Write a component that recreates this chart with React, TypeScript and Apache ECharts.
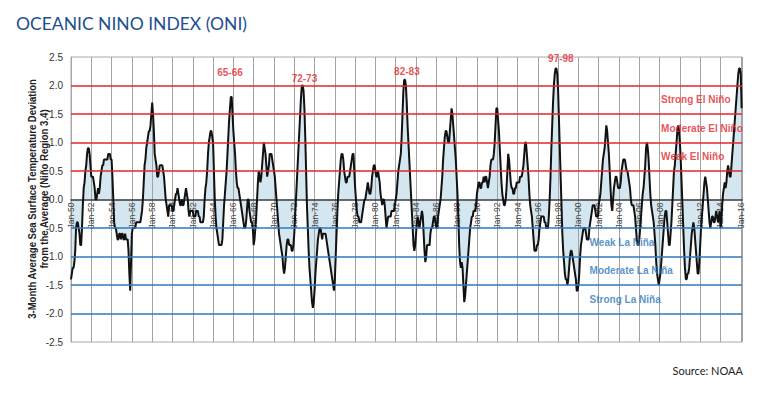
import React, { useEffect, useRef } from 'react';
import * as echarts from 'echarts';

// Monthly Oceanic Niño Index (3-month running mean), Jan 1950 – Feb 2016
const startYear = 1950;
const oni1950s = [
  -1.4, -1.3, -1.2, -1.2, -1.1, -0.9, -0.5, -0.4, -0.4, -0.5, -0.6, -0.8,
  -0.8, -0.5, -0.1, 0.2, 0.3, 0.5, 0.6, 0.8, 0.9, 0.9, 0.8, 0.6,
  0.4, 0.4, 0.4, 0.3, 0.2, 0.0, 0.0, 0.1, 0.2, 0.1, 0.2, 0.4,
  0.5, 0.6, 0.6, 0.7, 0.7, 0.7, 0.7, 0.7, 0.8, 0.8, 0.8, 0.7,
  0.7, 0.4, 0.0, -0.4, -0.5, -0.5, -0.6, -0.7, -0.7, -0.6, -0.6, -0.7,
  -0.6, -0.6, -0.7, -0.7, -0.6, -0.7, -0.7, -0.7, -0.9, -1.3, -1.6, -1.1,
  -0.6, -0.5, -0.5, -0.5, -0.5, -0.4, -0.4, -0.4, -0.4, -0.4, -0.4, -0.3,
  -0.2, 0.0, 0.3, 0.6, 0.7, 0.9, 1.0, 1.1, 1.2, 1.2, 1.3, 1.5,
  1.7, 1.5, 1.2, 0.8, 0.7, 0.6, 0.4, 0.4, 0.5, 0.6, 0.6, 0.6,
  0.6, 0.5, 0.4, 0.2, 0.0, -0.1, -0.2, -0.3, -0.1, -0.1, -0.1, -0.1,
];
const oni1960s = [
  -0.2, -0.2, -0.1, 0.0, 0.1, 0.1, 0.2, 0.1, 0.0, -0.1, -0.1, 0.0,
  -0.1, -0.1, 0.0, 0.1, 0.2, 0.1, 0.0, -0.2, -0.3, -0.2, -0.2, -0.2,
  -0.2, -0.3, -0.3, -0.3, -0.2, -0.2, -0.2, -0.3, -0.3, -0.4, -0.4, -0.4,
  -0.4, -0.3, 0.0, 0.2, 0.3, 0.5, 0.8, 1.0, 1.1, 1.2, 1.2, 1.1,
  1.0, 0.5, 0.0, -0.3, -0.5, -0.6, -0.7, -0.8, -0.8, -0.8, -0.8, -0.7,
  -0.4, -0.1, 0.1, 0.3, 0.5, 0.8, 1.1, 1.4, 1.6, 1.8, 1.8, 1.5,
  1.2, 1.0, 0.8, 0.5, 0.3, 0.2, 0.2, 0.1, 0.0, -0.1, -0.2, -0.3,
  -0.4, -0.5, -0.5, -0.4, -0.2, 0.0, 0.0, -0.2, -0.3, -0.4, -0.4, -0.5,
  -0.8, -0.7, -0.5, -0.3, 0.0, 0.3, 0.5, 0.4, 0.3, 0.4, 0.6, 0.8,
  1.0, 0.9, 0.8, 0.6, 0.4, 0.5, 0.6, 0.8, 0.8, 0.8, 0.7, 0.6,
];
const oni1970s = [
  0.5, 0.4, 0.2, 0.0, -0.2, -0.4, -0.6, -0.7, -0.8, -0.9, -1.0, -1.2,
  -1.3, -1.2, -1.0, -0.8, -0.7, -0.7, -0.8, -0.8, -0.8, -0.9, -0.9, -0.8,
  -0.6, -0.3, 0.0, 0.3, 0.6, 0.9, 1.2, 1.5, 1.8, 2.0, 2.0, 1.9,
  1.6, 1.1, 0.5, -0.1, -0.5, -0.9, -1.2, -1.4, -1.6, -1.8, -1.9, -1.8,
  -1.6, -1.3, -1.1, -0.9, -0.7, -0.6, -0.5, -0.5, -0.6, -0.7, -0.6, -0.6,
  -0.6, -0.6, -0.7, -0.8, -0.9, -1.0, -1.1, -1.2, -1.3, -1.4, -1.5, -1.6,
  -1.4, -1.0, -0.6, -0.2, 0.1, 0.3, 0.5, 0.7, 0.8, 0.8, 0.7, 0.5,
  0.4, 0.3, 0.3, 0.4, 0.4, 0.4, 0.5, 0.6, 0.7, 0.8, 0.8, 0.5,
  0.2, 0.0, -0.2, -0.3, -0.3, -0.4, -0.4, -0.4, -0.3, -0.2, -0.1, 0.0,
  0.0, 0.1, 0.2, 0.3, 0.2, 0.1, 0.1, 0.2, 0.4, 0.5, 0.6, 0.6,
];
const oni1980s = [
  0.5, 0.4, 0.4, 0.5, 0.4, 0.3, 0.1, 0.0, -0.1, 0.0, 0.0, -0.1,
  -0.3, -0.5, -0.4, -0.3, -0.3, -0.3, -0.3, -0.2, -0.2, -0.2, -0.2, -0.1,
  0.0, 0.1, 0.3, 0.5, 0.6, 0.7, 0.8, 1.1, 1.5, 1.9, 2.1, 2.1,
  2.0, 1.7, 1.3, 1.0, 0.7, 0.4, 0.1, -0.2, -0.5, -0.8, -0.9, -0.8,
  -0.6, -0.4, -0.3, -0.4, -0.5, -0.4, -0.3, -0.2, -0.3, -0.6, -0.9, -1.1,
  -1.0, -0.8, -0.8, -0.8, -0.8, -0.6, -0.5, -0.5, -0.4, -0.3, -0.3, -0.4,
  -0.5, -0.5, -0.3, -0.2, -0.1, 0.0, 0.2, 0.4, 0.7, 0.9, 1.1, 1.2,
  1.2, 1.1, 1.0, 1.0, 1.2, 1.4, 1.6, 1.5, 1.3, 1.1, 0.9, 0.7,
  0.4, 0.1, -0.3, -0.8, -1.1, -1.2, -1.1, -1.2, -1.5, -1.8, -1.7, -1.5,
  -1.3, -1.1, -0.9, -0.7, -0.5, -0.4, -0.3, -0.3, -0.2, -0.2, -0.2, -0.1,
];
const oni1990s = [
  0.1, 0.2, 0.3, 0.3, 0.2, 0.2, 0.3, 0.3, 0.4, 0.3, 0.4, 0.4,
  0.3, 0.2, 0.3, 0.4, 0.6, 0.7, 0.7, 0.7, 0.8, 1.0, 1.3, 1.6,
  1.6, 1.4, 1.2, 0.9, 0.6, 0.3, 0.1, 0.0, -0.1, -0.1, 0.0, 0.2,
  0.5, 0.8, 0.7, 0.5, 0.3, 0.2, 0.2, 0.1, 0.1, 0.2, 0.2, 0.3,
  0.3, 0.3, 0.3, 0.4, 0.4, 0.4, 0.5, 0.6, 0.8, 1.0, 1.0, 0.8,
  0.6, 0.4, 0.1, -0.1, -0.2, -0.3, -0.5, -0.7, -0.9, -0.9, -0.9, -0.8,
  -0.8, -0.7, -0.5, -0.4, -0.3, -0.3, -0.3, -0.3, -0.4, -0.4, -0.5, -0.5,
  -0.5, -0.3, 0.0, 0.4, 0.9, 1.3, 1.7, 2.0, 2.2, 2.3, 2.3, 2.2,
  1.9, 1.4, 0.9, 0.4, -0.1, -0.6, -0.9, -1.1, -1.3, -1.4, -1.4, -1.5,
  -1.4, -1.2, -1.0, -0.9, -0.9, -1.0, -1.1, -1.2, -1.3, -1.4, -1.6, -1.6,
];
const oni2000s = [
  -1.5, -1.3, -1.0, -0.8, -0.7, -0.6, -0.5, -0.5, -0.5, -0.6, -0.7, -0.7,
  -0.7, -0.5, -0.4, -0.3, -0.2, -0.1, -0.1, -0.1, -0.2, -0.3, -0.3, -0.3,
  -0.1, 0.0, 0.1, 0.3, 0.5, 0.7, 0.8, 0.9, 1.1, 1.3, 1.2, 1.0,
  0.8, 0.5, 0.2, -0.1, -0.2, 0.0, 0.2, 0.3, 0.4, 0.4, 0.3, 0.2,
  0.2, 0.2, 0.3, 0.5, 0.6, 0.7, 0.7, 0.7, 0.6, 0.5, 0.5, 0.4,
  0.3, 0.2, 0.0, -0.1, -0.1, -0.1, -0.2, -0.3, -0.5, -0.7, -0.8, -0.8,
  -0.7, -0.5, -0.3, -0.1, 0.1, 0.2, 0.4, 0.6, 0.9, 1.0, 0.9, 0.7,
  0.4, 0.1, -0.1, -0.2, -0.3, -0.4, -0.6, -0.8, -1.1, -1.3, -1.4, -1.5,
  -1.4, -1.3, -1.1, -0.9, -0.7, -0.5, -0.3, -0.2, -0.2, -0.4, -0.6, -0.8,
  -0.8, -0.6, -0.4, -0.1, 0.2, 0.5, 0.6, 0.8, 1.0, 1.2, 1.3, 1.2,
];
const oni2010s = [
  1.0, 0.7, 0.3, -0.1, -0.5, -0.9, -1.2, -1.4, -1.4, -1.3, -1.3, -1.2,
  -1.0, -0.8, -0.6, -0.5, -0.4, -0.5, -0.7, -0.9, -1.1, -1.3, -1.3, -1.1,
  -0.8, -0.5, -0.3, -0.1, 0.1, 0.3, 0.4, 0.3, 0.2, 0.0, -0.2, -0.4,
  -0.5, -0.4, -0.3, -0.3, -0.4, -0.4, -0.3, -0.2, -0.3, -0.4, -0.3, -0.2,
  -0.5, -0.4, -0.1, 0.1, 0.2, 0.3, 0.2, 0.3, 0.5, 0.6, 0.5, 0.4,
  0.4, 0.6, 0.8, 1.0, 1.2, 1.4, 1.6, 1.8, 2.0, 2.2, 2.3, 2.3,
  2.2, 1.6,
];

const xMin = 1950;
const xMax = 2016.12;
const xTickYears = [
  1950, 1952, 1954, 1956, 1958, 1960, 1962, 1964, 1966, 1968, 1970, 1972,
  1974, 1976, 1978, 1980, 1982, 1984, 1986, 1988, 1990, 1992, 1994, 1996,
  1998, 2000, 2002, 2004, 2006, 2008, 2010, 2012, 2014, 2016,
];
const yTicks = [-2.5, -2.0, -1.5, -1.0, -0.5, 0.0, 0.5, 1.0, 1.5, 2.0, 2.5];

const elNinoLevels = [0.5, 1.0, 1.5, 2.0];
const laNinaLevels = [-0.5, -1.0, -1.5, -2.0];
const elNinoNames = ['Weak El Niño', 'Moderate El Niño', 'Strong El Niño'];
const laNinaNames = ['Weak La Niña', 'Moderate La Niña', 'Strong La Niña'];
const elNinoLabelYear = 2008.15;
const laNinaLabelYear = 2001.1;

const eventNames = ['65-66', '72-73', '82-83', '97-98'];
const eventYears = [1965.67, 1973.0, 1983.1, 1998.27];
const eventHeights = [2.22, 2.13, 2.25, 2.47];

const RED = '#e3262b';
const BLUE = '#2e78bd';
const FONT = 'Arial, "Liberation Sans", sans-serif';

const GRID_TOP = 57;
const GRID_BOTTOM = 52;
const CHART_H = 394;

export default function App() {
  const ref = useRef<HTMLDivElement>(null);

  useEffect(() => {
    if (!ref.current) return;
    const chart = echarts.init(ref.current, null, { renderer: 'svg' });

    const all = [...oni1950s, ...oni1960s, ...oni1970s, ...oni1980s, ...oni1990s, ...oni2000s, ...oni2010s];
    const data = all.map((v, i) => [startYear + i / 12, v]);

    const levelLines = [
      ...elNinoLevels.map((v) => ({ yAxis: v, lineStyle: { color: RED, width: 1.5, type: 'solid' } })),
      ...laNinaLevels.map((v) => ({ yAxis: v, lineStyle: { color: BLUE, width: 1.5, type: 'solid' } })),
    ];

    const regimeLabels = [
      ...elNinoNames.map((n, i) => ({
        value: [elNinoLabelYear, (elNinoLevels[i] + elNinoLevels[i + 1]) / 2],
        name: n,
        label: { color: RED },
      })),
      ...laNinaNames.map((n, i) => ({
        value: [laNinaLabelYear, (laNinaLevels[i] + laNinaLevels[i + 1]) / 2],
        name: n,
        label: { color: BLUE },
      })),
    ];

    const eventData = eventNames.map((n, i) => ({ value: [eventYears[i], eventHeights[i]], name: n }));

    // distance from the grid bottom up to the zero line (the axis is drawn at y = 0)
    const plotH = CHART_H - GRID_TOP - GRID_BOTTOM;
    const yMin = yTicks[0];
    const yMax = yTicks[yTicks.length - 1];
    const zeroOffset = -plotH * (0 - yMin) / (yMax - yMin);

    const option: any = {
      animation: false,
      backgroundColor: '#ffffff',
      grid: {
        left: 71,
        right: 19,
        top: GRID_TOP,
        bottom: GRID_BOTTOM,
        show: true,
        borderColor: '#a8a8a8',
        borderWidth: 1,
        backgroundColor: 'transparent',
      },
      xAxis: {
        type: 'value',
        min: xMin,
        max: xMax,
        interval: 2,
        z: 2,
        offset: zeroOffset,
        axisLine: { onZero: false, lineStyle: { color: '#3a3a3a', width: 1.5 } },
        axisTick: { show: false },
        axisLabel: {
          rotate: 90,
          fontSize: 8.5,
          fontFamily: FONT,
          color: '#444',
          margin: 3,
          formatter: (v: number) => {
            const y = Math.round(v);
            if (Math.abs(v - y) > 1e-6 || xTickYears.indexOf(y) < 0) return '';
            return 'Jan-' + String(y % 100).padStart(2, '0');
          },
        },
        splitLine: { show: true, lineStyle: { color: '#a3a3a3', width: 1 } },
      },
      yAxis: {
        type: 'value',
        min: yMin,
        max: yMax,
        interval: 0.5,
        z: 2,
        axisLine: { show: true, lineStyle: { color: '#a8a8a8', width: 1 } },
        axisTick: { show: false },
        axisLabel: {
          fontSize: 10,
          fontFamily: FONT,
          color: '#333',
          margin: 8,
          formatter: (v: number) => v.toFixed(1),
        },
        splitLine: { show: false },
      },
      series: [
        {
          name: 'fill',
          type: 'line',
          data,
          z: 1,
          symbol: 'none',
          silent: true,
          lineStyle: { width: 0, opacity: 0 },
          areaStyle: { color: '#d4e7f0', opacity: 1 },
        },
        {
          name: 'levels',
          type: 'line',
          data: [],
          z: 3,
          markLine: {
            silent: true,
            symbol: 'none',
            label: { show: false },
            data: levelLines,
          },
        },
        {
          name: 'ONI',
          type: 'line',
          data,
          z: 4,
          symbol: 'none',
          silent: true,
          lineStyle: { color: '#111', width: 2 },
        },
        {
          name: 'regimes',
          type: 'scatter',
          data: regimeLabels,
          z: 5,
          symbolSize: 0,
          silent: true,
          label: {
            show: true,
            position: 'inside',
            align: 'left',
            verticalAlign: 'middle',
            fontSize: 10,
            fontWeight: 'bold',
            fontFamily: FONT,
            formatter: (p: any) => p.name,
          },
        },
        {
          name: 'events',
          type: 'scatter',
          data: eventData,
          z: 5,
          symbolSize: 0,
          silent: true,
          label: {
            show: true,
            position: 'inside',
            align: 'center',
            verticalAlign: 'middle',
            fontSize: 10,
            fontWeight: 'bold',
            fontFamily: FONT,
            color: RED,
            formatter: (p: any) => p.name,
          },
        },
      ],
      graphic: [
        {
          type: 'text',
          left: 16,
          top: 14,
          style: {
            text: 'OCEANIC NINO INDEX (ONI)',
            fill: '#1d4f91',
            fontSize: 17.5,
            fontFamily: 'Lato, "Open Sans", sans-serif',
          },
        },
        {
          type: 'text',
          x: 32,
          y: 199,
          rotation: Math.PI / 2,
          scaleX: 0.87,
          style: {
            text: '3-Month Average Sea Surface Temperature Deviation',
            fill: '#222',
            fontSize: 11,
            fontWeight: 'bold',
            fontFamily: FONT,
            align: 'center',
            verticalAlign: 'middle',
          },
        },
        {
          type: 'text',
          x: 44,
          y: 189,
          rotation: Math.PI / 2,
          scaleX: 0.87,
          style: {
            text: 'from the Average (Niño Region 3.4)',
            fill: '#222',
            fontSize: 11,
            fontWeight: 'bold',
            fontFamily: FONT,
            align: 'center',
            verticalAlign: 'middle',
          },
        },
        {
          type: 'text',
          right: 18,
          top: 365,
          style: {
            text: 'Source: NOAA',
            fill: '#222',
            fontSize: 11,
            fontFamily: 'Lato, "Open Sans", sans-serif',
          },
        },
      ],
    };

    chart.setOption(option);
    return () => chart.dispose();
  }, []);

  return (
    <div
      ref={ref}
      style={{ position: 'fixed', left: 0, top: 0, width: 761, height: 394, background: '#fff' }}
    />
  );
}
